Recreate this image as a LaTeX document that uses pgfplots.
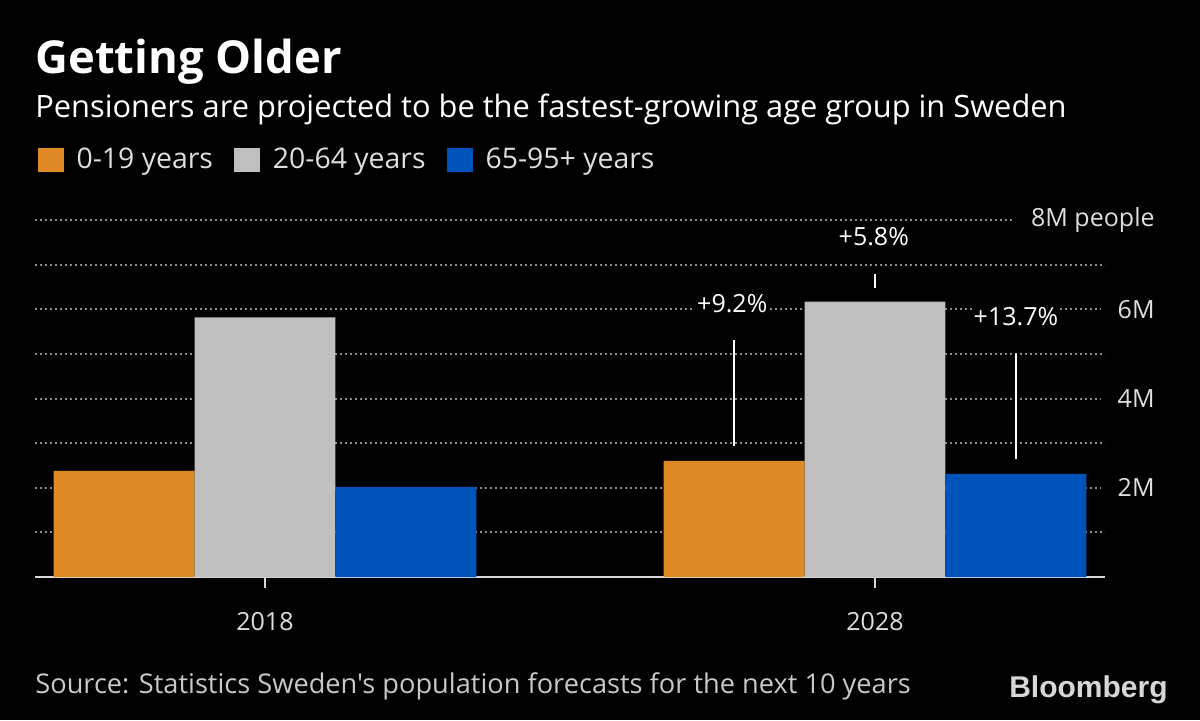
\documentclass[border=0pt]{standalone}
\usepackage{pgfplots}
\pgfplotsset{compat=1.18}
\usepackage{fontspec}
\setmainfont{Open Sans}[Ligatures=TeXOff]
\newfontfamily\bbfont{Liberation Sans}
\definecolor{c1}{RGB}{220,137,38}
\definecolor{c2}{RGB}{191,191,191}
\definecolor{c3}{RGB}{0,83,186}
\definecolor{gridc}{RGB}{140,140,140}
\definecolor{txt}{RGB}{222,222,222}
\definecolor{axisc}{RGB}{215,215,215}
\definecolor{srcc}{RGB}{200,200,200}
\begin{document}
\begin{tikzpicture}
\fill[black] (0,0) rectangle (600pt,360pt);
\useasboundingbox (0,0) rectangle (600pt,360pt);
\node[anchor=base west, inner sep=0, text=white, font=\fontsize{22.7}{26}\selectfont\bfseries] at (17.5pt,323.5pt) {Getting Older};
\node[anchor=base west, inner sep=0, text=white, font=\fontsize{15.4}{18}\selectfont] at (17.5pt,301.5pt) {Pensioners are projected to be the fastest-growing age group in Sweden};
\node[anchor=base west, inner sep=0, text=srcc, font=\fontsize{13.6}{16}\selectfont] at (17.5pt,13.5pt) {Source: Statistics Sweden's population forecasts for the next 10 years};
\node[anchor=base east, inner sep=0, text=axisc, font=\bbfont\bfseries\fontsize{15}{18}\selectfont] at (584pt,11.5pt) {Bloomberg};
\begin{axis}[
  at={(17.5pt,71.5pt)}, anchor=south west, scale only axis,
  width=535pt, height=178.5pt,
  xmin=-0.377, xmax=1.377, ymin=0, ymax=8,
  clip=false,
  axis x line*=bottom, axis y line*=right,
  y axis line style={draw=none},
  x axis line style={line width=1pt, draw=axisc, -},
  xtick={0,1}, xticklabels={2018,2028},
  xtick align=outside, major tick length=5.5pt,
  xtick style={line width=1pt, draw=axisc},
  ytick={1,2,...,8}, yticklabels={,2M,,4M,,6M,,8M people},
  ytick style={draw=none},
  ymajorgrids,
  grid style={gridc, line width=1pt, dash pattern=on 1.2pt off 1.3pt},
  tick label style={font=\fontsize{12.5}{15}\selectfont, text=txt},
  xticklabel style={inner sep=0pt, anchor=north, yshift=-12pt},
  yticklabel style={anchor=east, xshift=33.5pt, fill=black, inner xsep=8.5pt, inner ysep=2pt},
  legend style={at={(axis description cs:0.002,1.168)}, anchor=west, draw=none, fill=none,
    legend columns=3, font=\fontsize{14.2}{16}\selectfont, text=txt, inner sep=0pt,
    /tikz/every odd column/.append style={column sep=4.5pt},
    /tikz/every even column/.append style={column sep=8.5pt}},
  legend image code/.code={\fill[#1] (0pt,-6pt) rectangle (13pt,6pt);},
]
\addplot[ybar, bar width=0.231, bar shift=0pt, fill=c1, draw=none] coordinates {(-0.231,2.38) (0.769,2.60)};
\addlegendentry{0-19 years}
\addplot[ybar, bar width=0.231, bar shift=0pt, fill=c2, draw=none] coordinates {(0,5.82) (1,6.17)};
\addlegendentry{20-64 years}
\addplot[ybar, bar width=0.231, bar shift=0pt, fill=c3, draw=none] coordinates {(0.231,2.02) (1.231,2.31)};
\addlegendentry{65-95+ years}
\addplot[white, line width=1pt, forget plot] coordinates {(0.769,2.94) (0.769,5.31)};
\addplot[white, line width=1pt, forget plot] coordinates {(1,6.48) (1,6.79)};
\addplot[white, line width=1pt, forget plot] coordinates {(1.231,2.65) (1.231,5.02)};
\node[fill=black, inner sep=1pt, text=white, font=\fontsize{12.5}{15}\selectfont] at (axis cs:0.766,6.12) {+9.2\%};
\node[fill=black, inner sep=1pt, text=white, font=\fontsize{12.5}{15}\selectfont] at (axis cs:0.998,7.62) {+5.8\%};
\node[fill=black, inner sep=1pt, text=white, font=\fontsize{12.5}{15}\selectfont] at (axis cs:1.231,5.83) {+13.7\%};
\end{axis}
\end{tikzpicture}
\end{document}
